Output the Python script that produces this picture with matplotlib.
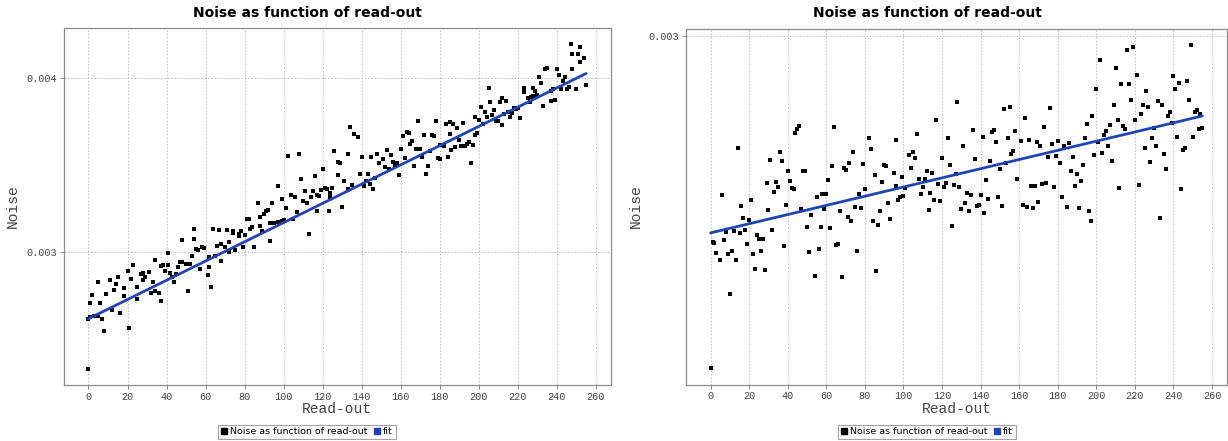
"""Two JFreeChart-style scatter panels: noise vs read-out with a linear fit."""
import numpy as np
import matplotlib
matplotlib.use("Agg")
import matplotlib.pyplot as plt
from matplotlib.lines import Line2D
from matplotlib.ticker import FormatStrFormatter, MultipleLocator

INK, MUTED, GRID, FRAME, BLUE = "#000000", "#444444", "#c4c4c4", "#8c8c8c", "#1f45b5"
MONO = ["Liberation Mono", "DejaVu Sans Mono"]
NARROW = ["Liberation Sans Narrow", "DejaVu Sans"]

TITLE = "Noise as function of read-out"
SERIES_LABELS = ["Noise as function of read-out", "fit"]

# left panel (noise values in units of 1e-3)
readout_left = [
    0, 0, 1, 1, 2, 3, 4, 5, 5, 6, 7, 8, 9, 11, 12, 13, 14, 15, 16, 18, 18, 20,
    21, 22, 23, 25, 25, 27, 28, 28, 29, 31, 32, 33, 34, 34, 36, 37, 37, 38, 39,
    41, 41, 42, 43, 44, 45, 46, 47, 48, 48, 50, 51, 52, 53, 54, 54, 55, 56, 57, 58, 59,
    61, 62, 62, 63, 64, 65, 66, 67, 68, 68, 70, 71, 72, 72, 74, 74, 75, 77, 77, 78, 79, 80,
    81, 82, 83, 84, 85, 87, 88, 88, 89, 90, 91, 92, 93, 93, 94, 95, 97, 97, 99, 99, 100,
    99, 101, 102, 104, 105, 106, 107, 108, 109, 110, 111, 112, 113, 114, 115, 116, 117, 117, 118, 119, 120, 121,
    122, 123, 124, 124, 125, 126, 128, 128, 129, 130, 131, 133, 133, 134, 135, 136, 138, 139, 140, 140,
    141, 142, 143, 144, 145, 146, 147, 148, 149, 151, 152, 153, 154, 155, 156, 157, 158, 159, 160,
    161, 162, 163, 164, 165, 166, 167, 168, 169, 170, 171, 172, 173, 174, 175, 176, 177, 178, 179, 180, 180,
    182, 183, 184, 185, 185, 186, 187, 188, 189, 190, 191, 192, 193, 194, 195, 196, 197, 198, 198, 199, 200,
    201, 202, 203, 204, 205, 206, 207, 208, 209, 210, 211, 212, 212, 213, 214, 215, 216, 217, 218, 219, 220,
    221, 223, 223, 225, 226, 227, 228, 228, 229, 230, 231, 232, 233, 234, 235, 237, 237, 238, 239, 240,
    241, 242, 243, 244, 245, 246, 247, 248, 248, 250, 251, 252, 252, 254, 255,
]
noise_left = [
    2.323, 2.612, 2.704, 2.621, 2.748, 2.625, 2.625, 2.627, 2.827, 2.704, 2.608, 2.540, 2.756, 2.837, 2.663,
    2.779, 2.815, 2.852, 2.644, 2.788, 2.746, 2.890,
    2.556, 2.840, 2.923, 2.725, 2.798, 2.871, 2.875, 2.833, 2.852, 2.883, 2.763, 2.827, 2.952, 2.775, 2.762,
    2.713, 2.915, 2.923, 2.890,
    2.990, 2.923, 2.875, 2.852, 2.823, 2.871, 2.910, 2.937, 2.937, 3.069, 2.929, 2.775, 2.929, 2.975, 3.131,
    3.075, 3.015, 3.010, 2.900, 3.029, 3.021,
    2.862, 2.971, 2.913, 2.798, 3.129, 2.975, 3.035, 3.125, 3.044, 2.944, 3.025, 3.125, 2.998, 3.054, 3.117,
    3.110, 3.010, 3.102, 3.090, 3.121, 3.025, 3.096,
    3.187, 3.187, 3.133, 3.140, 3.025, 3.279, 3.148, 3.198, 3.117, 3.217, 3.233, 3.242, 3.163, 3.063, 3.283,
    3.165, 3.381, 3.171, 3.175, 3.179, 3.183,
    3.302, 3.252, 3.552, 3.329, 3.190, 3.317, 3.229, 3.563, 3.417, 3.294, 3.348, 3.279, 3.100, 3.317, 3.352,
    3.438, 3.329, 3.233, 3.321, 3.356, 3.479, 3.365,
    3.363, 3.233, 3.317, 3.340, 3.365, 3.579, 3.517, 3.444, 3.513, 3.260, 3.410, 3.563, 3.360, 3.717, 3.387,
    3.679, 3.660, 3.448, 3.544, 3.544,
    3.379, 3.410, 3.448, 3.390, 3.544, 3.360, 3.425, 3.563, 3.513, 3.533, 3.487, 3.587, 3.475, 3.556, 3.517,
    3.502, 3.513, 3.444, 3.590,
    3.667, 3.540, 3.690, 3.683, 3.621, 3.640, 3.494, 3.590, 3.756, 3.590, 3.544, 3.673, 3.448, 3.494, 3.583,
    3.673, 3.667, 3.756, 3.540, 3.613, 3.537,
    3.610, 3.737, 3.548, 3.748, 3.679, 3.587, 3.740, 3.602, 3.713, 3.644, 3.610, 3.744, 3.610, 3.621, 3.633,
    3.513, 3.613, 3.775, 3.675, 3.687, 3.763,
    3.833, 3.740, 3.806, 3.779, 3.948, 3.867, 3.790, 3.817, 3.752, 3.756, 3.867, 3.887, 3.733, 3.794, 3.871,
    3.806, 3.779, 3.798, 3.829, 3.825, 3.829,
    3.771, 3.944, 3.921, 3.890, 3.867, 3.894, 3.898, 3.944, 3.929, 3.906, 4.010, 3.975, 3.840, 4.056, 4.060,
    3.925, 3.871, 3.940, 3.875, 4.056,
    4.021, 3.937, 3.987, 4.010, 3.940, 3.952, 4.198, 4.052, 4.140, 3.940, 4.140, 4.183, 4.098, 4.117, 3.960,
]

# right panel (noise values in units of 1e-3)
readout_right = [
    0, 1, 2, 3, 5, 6, 7, 8, 9, 10, 11, 12, 13, 14, 15, 16, 17, 18, 19, 20, 21,
    22, 23, 24, 25, 26, 27, 28, 29, 30, 31, 32, 33, 34, 35, 36, 37, 38, 39, 40,
    41, 42, 43, 44, 45, 46, 47, 48, 49, 50, 51, 52, 54, 55, 56, 57, 58, 59, 60, 61,
    62, 63, 64, 65, 66, 67, 68, 69, 70, 71, 72, 73, 74, 75, 76, 77, 78, 79, 80,
    82, 83, 84, 85, 86, 87, 88, 89, 90, 91, 92, 93, 95, 96, 96, 97, 98, 99, 100,
    101, 103, 104, 105, 106, 107, 108, 109, 110, 111, 112, 113, 114, 115, 116, 117, 118, 119, 120,
    121, 122, 123, 124, 125, 126, 127, 128, 129, 130, 131, 132, 133, 134, 135, 136, 137, 138, 139,
    140, 141, 142, 143, 144, 145, 146, 147, 148, 149, 150, 151, 152, 153, 154, 155, 156, 157, 158, 159,
    161, 162, 163, 164, 165, 166, 167, 168, 169, 170, 171, 172, 173, 174, 175, 176, 177, 178, 179, 180,
    181, 182, 183, 185, 186, 187, 188, 189, 190, 191, 192, 193, 194, 195, 196, 197, 198, 199, 200,
    201, 202, 203, 204, 205, 206, 207, 208, 209, 210, 211, 212, 213, 214, 215, 216, 217, 218, 219, 220,
    221, 222, 223, 224, 225, 226, 227, 228, 229, 230, 231, 232, 233, 234, 235, 236, 237, 238, 239, 240,
    241, 242, 243, 244, 245, 246, 247, 248, 249, 250, 251, 252, 253, 254, 255,
]
noise_right = [
    2.2494, 2.5341, 2.5326, 2.5086, 2.4929, 2.6412, 2.5386, 2.5581, 2.5064, 2.4180, 2.5146, 2.5588, 2.4929,
    2.7468, 2.5551, 2.6157, 2.5888, 2.5618, 2.5303, 2.5843, 2.6292,
    2.5064, 2.4734, 2.5498, 2.5408, 2.5131, 2.5423, 2.4712, 2.6667, 2.6075, 2.7206, 2.5618, 2.6472, 2.6689,
    2.6592, 2.7386, 2.7184, 2.5258, 2.6180, 2.6951,
    2.6727, 2.6554, 2.6532, 2.7805, 2.7888, 2.7963, 2.6097, 2.6951, 2.6951, 2.5693, 2.5124, 2.5948, 2.4569,
    2.6352, 2.5184, 2.5693, 2.6427, 2.6097, 2.6427, 2.6742,
    2.5663, 2.7064, 2.7940, 2.5288, 2.5303, 2.6037, 2.4547, 2.7026, 2.6974, 2.5918, 2.7131, 2.5820, 2.7386,
    2.6142, 2.5146, 2.6427, 2.6112, 2.7109, 2.6532,
    2.7685, 2.7446, 2.5820, 2.6854, 2.4689, 2.5738, 2.6052, 2.6689, 2.7086, 2.7049, 2.6232, 2.5873, 2.6906,
    2.6599, 2.7640, 2.6292, 2.6352, 2.6809, 2.6375,
    2.6569, 2.7303, 2.7011, 2.7371, 2.7251, 2.7775, 2.6757, 2.6434, 2.6592, 2.6772, 2.6951, 2.6075, 2.6442,
    2.6906, 2.6292, 2.8097, 2.6652, 2.6277, 2.7251,
    2.6577, 2.6667, 2.7685, 2.7086, 2.5715, 2.6637, 2.6876, 2.8494, 2.6577, 2.6097, 2.7521, 2.6217, 2.6442,
    2.6052, 2.6412, 2.7880, 2.7228, 2.6165, 2.6187,
    2.6412, 2.7715, 2.5993, 2.6749, 2.6307, 2.7184, 2.7835, 2.7865, 2.7596, 2.6367, 2.6989, 2.6150, 2.8352,
    2.7131, 2.7700, 2.8390, 2.7326, 2.7401, 2.7850, 2.6764,
    2.7625, 2.6172, 2.8135, 2.6127, 2.7655, 2.6614, 2.6112, 2.6614, 2.7596, 2.6247, 2.7506, 2.6644, 2.7940,
    2.6667, 2.7266, 2.8375, 2.7566, 2.6592, 2.7288, 2.7625,
    2.7131, 2.6352, 2.7506, 2.6135, 2.7573, 2.6951, 2.7266, 2.6607, 2.6876, 2.6120, 2.6712, 2.7086, 2.7700,
    2.8015, 2.6037, 2.5820, 2.8187, 2.7311, 2.8809,
    2.7596, 2.9461, 2.7363, 2.7753, 2.7850, 2.7506, 2.7985, 2.7184, 2.8434, 2.9266, 2.8090, 2.6569, 2.8914,
    2.7955, 2.7888, 2.9670, 2.8914, 2.8539, 2.9745, 2.8097,
    2.9109, 2.6637, 2.8240, 2.8434, 2.7476, 2.8749, 2.8390, 2.7146, 2.7700, 2.7918, 2.7521, 2.8524, 2.5895,
    2.8434, 2.7341, 2.6989, 2.8180, 2.8285, 2.8022, 2.9094,
    2.8809, 2.7715, 2.8936, 2.6547, 2.7431, 2.7476, 2.8974, 2.8539, 2.9798, 2.7715, 2.8285, 2.8315, 2.7895,
    2.8240, 2.7918,
]

fit_readout = [0, 255]
fit_left = [2.612, 4.029]
fit_right = [2.555, 2.819]

W, H = 1228, 441


def draw_panel(fig, rect, readout, noise, fit, centre_x):
    ax = fig.add_axes(rect, facecolor="white")
    ax.scatter(readout, np.array(noise) * 1e-3, s=5, marker="s", color=INK,
               linewidths=0, zorder=2)
    ax.plot(fit_readout, np.array(fit) * 1e-3, color=BLUE, lw=2.0, zorder=3,
            solid_capstyle="round")
    ax.margins(x=0.05, y=0.05)
    ax.xaxis.set_major_locator(MultipleLocator(20))
    ax.yaxis.set_major_locator(MultipleLocator(0.001))
    ax.yaxis.set_major_formatter(FormatStrFormatter("%.3f"))
    ax.grid(True, color=GRID, lw=0.8, ls=(0, (1.5, 1.5)), zorder=0)
    for s in ax.spines.values():
        s.set_color(FRAME); s.set_linewidth(0.9)
    ax.tick_params(direction="out", length=3, width=0.7, color=FRAME,
                   labelsize=7.3, labelcolor=MUTED, pad=2)
    for lab in ax.get_xticklabels() + ax.get_yticklabels():
        lab.set_family(MONO)
    ax.set_xlabel("Read-out", family=MONO, fontsize=10.5, color=MUTED)
    ax.set_ylabel("Noise", family=MONO, fontsize=10.5, color=MUTED)
    ax.xaxis.set_label_coords(0.5, -0.068)
    ax.xaxis.label.set_verticalalignment("center")
    ax.yaxis.set_label_coords(-0.092, 0.5)
    ax.yaxis.label.set_verticalalignment("center")

    fig.text(centre_x / W, 1 - 13 / H, TITLE, ha="center", va="center",
             fontsize=10, fontweight="bold", color=INK)
    handles = [Line2D([], [], ls="none", marker="s", ms=5, color=c) for c in (INK, BLUE)]
    leg = fig.legend(handles, SERIES_LABELS, loc="center",
                     bbox_to_anchor=(centre_x / W, 1 - 432 / H), ncol=2,
                     prop={"family": NARROW, "size": 6.8}, frameon=True,
                     fancybox=False, edgecolor=FRAME, handlelength=0.6,
                     handletextpad=0.3, columnspacing=0.8, borderpad=0.3,
                     borderaxespad=0)
    leg.get_frame().set_linewidth(0.8)
    return ax


fig = plt.figure(figsize=(W / 100, H / 100), dpi=100, facecolor="white")
draw_panel(fig, [63.6 / W, 56 / H, 547.4 / W, 357 / H],
           readout_left, noise_left, fit_left, 307)
draw_panel(fig, [686 / W, 56.5 / H, 541 / W, 356 / H],
           readout_right, noise_right, fit_right, 927)
fig.savefig("out.png", dpi=100, facecolor="white")
